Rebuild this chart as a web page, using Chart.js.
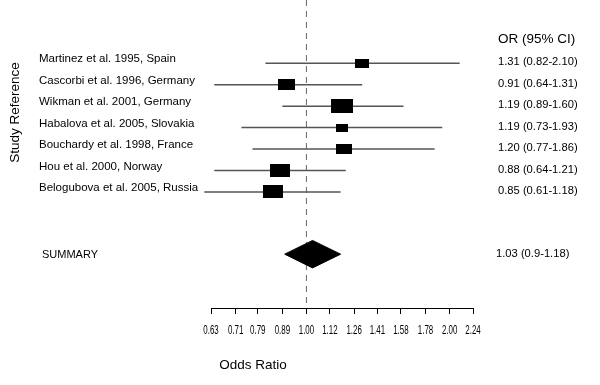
<!DOCTYPE html>
<html>
<head>
<meta charset="utf-8">
<script src="https://cdn.jsdelivr.net/npm/chart.js@4/dist/chart.umd.min.js"></script>
<style>
  body { margin: 0; background: #fff; }
</style>
</head>
<body>
<canvas id="forest" width="600" height="385"></canvas>
<script>
// --- Data ---
const studies = [
  'Martinez et al. 1995, Spain',
  'Cascorbi et al. 1996, Germany',
  'Wikman et al. 2001, Germany',
  'Habalova et al. 2005, Slovakia',
  'Bouchardy et al. 1998, France',
  'Hou et al. 2000, Norway',
  'Belogubova et al. 2005, Russia'
];
const oddsRatio = [1.31, 0.91, 1.19, 1.19, 1.20, 0.88, 0.85];
const ciLow = [0.82, 0.64, 0.89, 0.73, 0.77, 0.64, 0.61];
const ciHigh = [2.10, 1.31, 1.60, 1.93, 1.86, 1.21, 1.18];
const weights = [9.0, 13.4, 21.8, 7.1, 11.1, 18.8, 18.8]; // % study weight
const summaryOR = 1.03;
const summaryCI = [0.9, 1.18];
const summaryText = '1.03 (0.9-1.18)';
const axisTicks = ['0.63', '0.71', '0.79', '0.89', '1.00', '1.12', '1.26', '1.41', '1.58', '1.78', '2.00', '2.24'];

// --- Layout helpers ---
const rows = studies.map((s, i) => i + 1);
const summaryRow = 9.9;
const diamondHalf = 0.64;
const lineGrey = '#555555';
const baseFont = '"Liberation Sans", Arial, sans-serif';
Chart.defaults.font.family = baseFont;
Chart.defaults.color = '#000';

// black box whose area follows the study weight
function makeBox(w) {
  const h = Math.round(3 * Math.sqrt(w));
  const c = document.createElement('canvas');
  c.width = Math.round(h * 1.55);
  c.height = h;
  const g = c.getContext('2d');
  g.fillStyle = '#000';
  g.fillRect(0, 0, c.width, c.height);
  return c;
}
const boxes = weights.map(makeBox);

const datasets = [];

// boxes on top
datasets.push({
  type: 'scatter',
  data: oddsRatio.map((v, i) => ({ x: v, y: rows[i] })),
  pointStyle: boxes,
  pointRadius: 5,
  clip: false,
  order: 0
});

// summary diamond
datasets.push({
  type: 'line',
  data: [
    { x: summaryCI[0], y: summaryRow },
    { x: summaryOR, y: summaryRow - diamondHalf },
    { x: summaryCI[1], y: summaryRow },
    { x: summaryOR, y: summaryRow + diamondHalf },
    { x: summaryCI[0], y: summaryRow }
  ],
  borderColor: '#000',
  borderWidth: 1,
  backgroundColor: '#000',
  fill: 'shape',
  pointRadius: 0,
  tension: 0,
  order: 1
});

// confidence interval lines
studies.forEach((s, i) => {
  datasets.push({
    type: 'line',
    data: [{ x: ciLow[i], y: rows[i] }, { x: ciHigh[i], y: rows[i] }],
    borderColor: lineGrey,
    borderWidth: 1.5,
    pointRadius: 0,
    clip: false,
    order: 2
  });
});

// no-effect reference line
datasets.push({
  type: 'line',
  data: [{ x: 1, y: -1.95 }, { x: 1, y: 12.41 }],
  borderColor: '#666',
  borderWidth: 1,
  borderDash: [6, 5],
  pointRadius: 0,
  order: 3
});

// --- Text labels ---
const labelsPlugin = {
  id: 'forestLabels',
  afterDraw(chart) {
    const ctx = chart.ctx;
    const x = chart.scales.x;
    const y = chart.scales.y;
    ctx.save();
    ctx.fillStyle = '#000';
    ctx.textBaseline = 'middle';
    ctx.textAlign = 'left';

    ctx.font = '11.5px ' + baseFont;
    studies.forEach((s, i) => {
      ctx.fillText(s, 39, y.getPixelForValue(rows[i]) - 4);
    });
    ctx.font = '11px ' + baseFont;
    ctx.fillText('SUMMARY', 42, y.getPixelForValue(summaryRow) + 1);

    ctx.font = '13.5px ' + baseFont;
    ctx.fillText('OR (95% CI)', 498, y.getPixelForValue(rows[0]) - 24);
    ctx.font = '11.2px ' + baseFont;
    studies.forEach((s, i) => {
      const txt = oddsRatio[i].toFixed(2) + ' (' + ciLow[i].toFixed(2) + '-' + ciHigh[i].toFixed(2) + ')';
      ctx.fillText(txt, 498, y.getPixelForValue(rows[i]) - 1);
    });
    ctx.fillText(summaryText, 496, y.getPixelForValue(summaryRow));

    // condensed tick labels under the axis
    ctx.textAlign = 'center';
    ctx.font = '12px ' + baseFont;
    axisTicks.forEach(t => {
      ctx.save();
      ctx.translate(x.getPixelForValue(Number(t)), 331);
      ctx.scale(0.66, 1);
      ctx.fillText(t, 0, 0);
      ctx.restore();
    });

    ctx.font = '13.5px ' + baseFont;
    ctx.fillText('Odds Ratio', 253, 365);
    ctx.translate(15, 112.5);
    ctx.rotate(-Math.PI / 2);
    ctx.fillText('Study Reference', 0, 0);
    ctx.restore();
  }
};

new Chart(document.getElementById('forest'), {
  data: { datasets },
  options: {
    responsive: false,
    animation: false,
    layout: { autoPadding: false, padding: { left: 211, right: 127, top: 0, bottom: 0 } },
    plugins: { legend: { display: false }, tooltip: { enabled: false } },
    scales: {
      x: {
        type: 'logarithmic',
        bounds: 'data',
        min: 0.63,
        max: 2.24,
        afterBuildTicks: s => { s.ticks = axisTicks.map(t => ({ value: Number(t) })); },
        afterFit: s => { s.height = 77; },
        border: { display: true, color: '#000', width: 1 },
        grid: { drawOnChartArea: false, drawTicks: true, tickLength: 6, color: '#000' },
        ticks: { display: false, autoSkip: false }
      },
      y: {
        type: 'linear',
        display: false,
        reverse: true,
        min: -1.95,
        max: 12.41
      }
    }
  },
  plugins: [labelsPlugin]
});
</script>
</body>
</html>
